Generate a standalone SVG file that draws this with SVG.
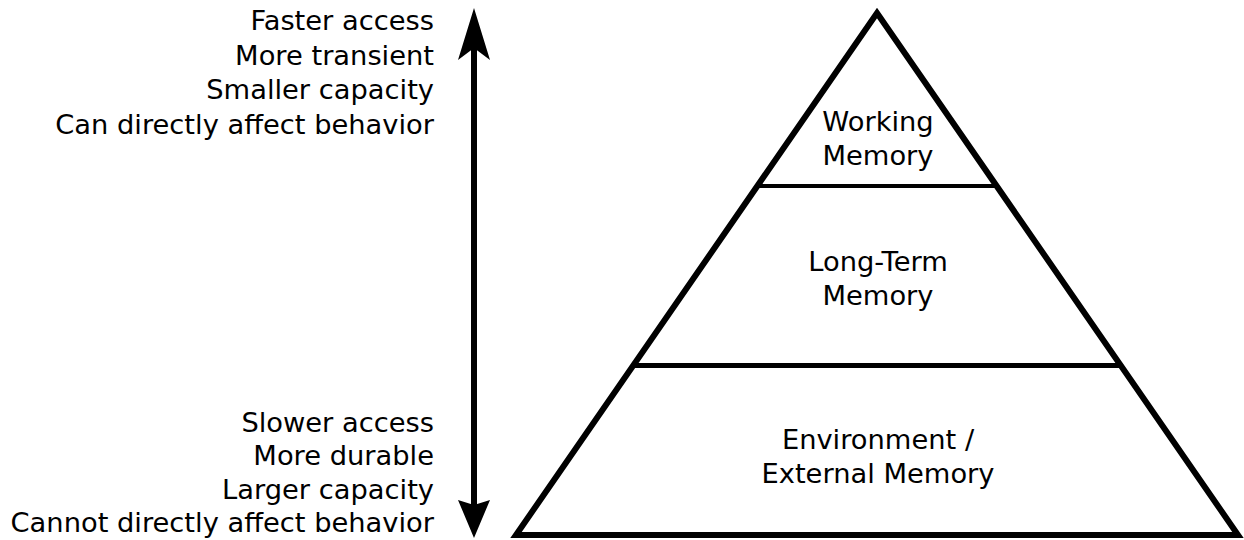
<svg xmlns="http://www.w3.org/2000/svg" width="1244" height="540" viewBox="0 0 1244 540">
  <style>
    text { font-family: "DejaVu Sans", sans-serif; font-size: 27.3px; fill: #000; }
    .side { text-anchor: end; }
    .lbl { text-anchor: middle; }
    .edge { stroke: #000; fill: none; stroke-linecap: butt; }
  </style>
  <rect width="1244" height="540" fill="#fff"/>

  <!-- double-headed axis arrow -->
  <g id="connectors">
    <line class="edge" x1="474" y1="45" x2="474" y2="505" stroke-width="6"/>
    <path d="M474 8 L490 60 L474 48 L458 60 Z" fill="#000"/>
    <path d="M474 538 L490 500 L474 505 L458 500 Z" fill="#000"/>
  </g>

  <!-- pyramid outline and tiers -->
  <g id="pyramid">
    <path class="edge" d="M877 13 L1238 535 L516 535 Z" stroke-width="6" stroke-linejoin="miter"/>
    <line class="edge" x1="757" y1="186" x2="997" y2="186" stroke-width="4"/>
    <line class="edge" x1="633" y1="365.5" x2="1121" y2="365.5" stroke-width="5"/>
  </g>

  <g id="working-memory">
    <text class="lbl" x="878" y="131">Working</text>
    <text class="lbl" x="878" y="164.5">Memory</text>
  </g>
  <g id="long-term-memory">
    <text class="lbl" x="878" y="271">Long-Term</text>
    <text class="lbl" x="878" y="305">Memory</text>
  </g>
  <g id="external-memory">
    <text class="lbl" x="878" y="449">Environment /</text>
    <text class="lbl" x="878" y="482.5">External Memory</text>
  </g>

  <g id="top-properties">
    <text class="side" x="434" y="30">Faster access</text>
    <text class="side" x="434" y="64.5">More transient</text>
    <text class="side" x="434" y="99">Smaller capacity</text>
    <text class="side" x="434" y="133.5">Can directly affect behavior</text>
  </g>
  <g id="bottom-properties">
    <text class="side" x="434" y="431.5">Slower access</text>
    <text class="side" x="434" y="465">More durable</text>
    <text class="side" x="434" y="498.5">Larger capacity</text>
    <text class="side" x="434" y="532">Cannot directly affect behavior</text>
  </g>
</svg>
